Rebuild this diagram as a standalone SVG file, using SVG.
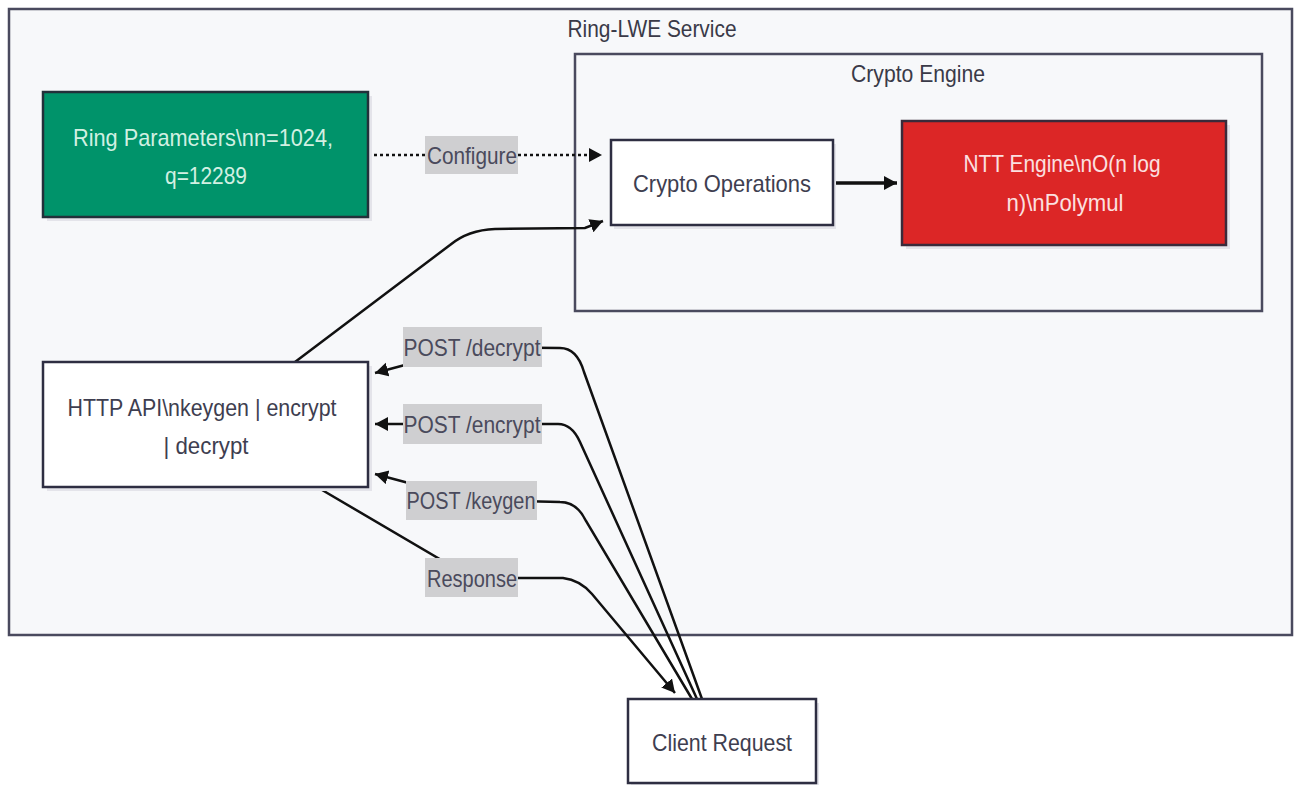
<svg xmlns="http://www.w3.org/2000/svg" width="1297" height="785" viewBox="0 0 1297 785">
<style>
  text { font-family: "Liberation Sans", Arial, sans-serif; font-size: 24px; dominant-baseline: central; text-anchor: middle; }
  .title { fill: #3a3a48; }
  .dark { fill: #3e3e50; }
  .lbl { fill: #4a4a5c; }
  .cluster { fill: #f7f8fa; stroke: #4a4a5e; stroke-width: 2.5; }
  .node { fill: #ffffff; stroke: #2e2e42; stroke-width: 2.5; }
  .shadow { fill: #e4e4ea; }
  .edge { fill: none; stroke: #111; stroke-width: 2.5; }
  .thick { stroke-width: 3.4; }
  .dotted { stroke-dasharray: 3 3; }
  .lblbg { fill: #cfcfd1; }
</style>
<defs>
  <marker id="arr" markerUnits="userSpaceOnUse" markerWidth="16" markerHeight="16" refX="13" refY="7" orient="auto">
    <path d="M0,0 L13,7 L0,14 z" fill="#111"/>
  </marker>
</defs>
<rect width="1297" height="785" fill="#ffffff"/>

<g id="ring-lwe-service">
  <rect class="cluster" x="9" y="9" width="1283" height="626"/>
  <text class="title" x="652" y="28" textLength="169" lengthAdjust="spacingAndGlyphs">Ring-LWE Service</text>
</g>
<g id="crypto-engine">
  <rect class="cluster" x="575" y="54" width="687" height="257"/>
  <text class="title" x="918" y="73" textLength="134" lengthAdjust="spacingAndGlyphs">Crypto Engine</text>
</g>

<g id="connectors">
  <path class="edge dotted" d="M368,155 L602,155" marker-end="url(#arr)"/>
  <path class="edge" d="M295,362 L450,245 Q468,230 495,229 L585,228 L603,221" marker-end="url(#arr)"/>
  <path class="edge thick" d="M833,183 L897,183" marker-end="url(#arr)"/>
  <path class="edge" d="M702,699 L584,372 Q577,348 560,348 L472,347 L375,373" marker-end="url(#arr)"/>
  <path class="edge" d="M697,699 L580,442 Q572,424 558,424 L375,424" marker-end="url(#arr)"/>
  <path class="edge" d="M692,699 L586,521 Q577,502 560,502 L472,500 L375,474" marker-end="url(#arr)"/>
  <path class="edge" d="M317,487 L472,578 L563,578 Q580,580 592,594 L675,693" marker-end="url(#arr)"/>
  <rect class="lblbg" x="425" y="136" width="93" height="38"/>
  <text class="lbl" x="472" y="155" textLength="90" lengthAdjust="spacingAndGlyphs">Configure</text>
  <rect class="lblbg" x="403" y="327" width="139" height="40"/>
  <text class="lbl" x="472" y="347" textLength="137" lengthAdjust="spacingAndGlyphs">POST /decrypt</text>
  <rect class="lblbg" x="403" y="404" width="139" height="40"/>
  <text class="lbl" x="472" y="424" textLength="137" lengthAdjust="spacingAndGlyphs">POST /encrypt</text>
  <rect class="lblbg" x="406" y="481" width="131" height="39"/>
  <text class="lbl" x="471" y="500" textLength="129" lengthAdjust="spacingAndGlyphs">POST /keygen</text>
  <rect class="lblbg" x="425" y="558" width="93" height="39"/>
  <text class="lbl" x="472" y="578" textLength="90" lengthAdjust="spacingAndGlyphs">Response</text>
</g>

<g id="ring-parameters">
  <rect class="shadow" x="47" y="96" width="325" height="125"/>
  <rect x="43" y="92" width="325" height="125" fill="#00936a" stroke="#22303a" stroke-width="2.5"/>
  <text x="203" y="137" fill="#d2f0e2" textLength="260" lengthAdjust="spacingAndGlyphs">Ring Parameters\nn=1024,</text>
  <text x="206" y="175" fill="#d2f0e2" textLength="82" lengthAdjust="spacingAndGlyphs">q=12289</text>
</g>

<g id="crypto-operations">
  <rect class="shadow" x="614" y="144" width="222" height="85"/>
  <rect class="node" x="611" y="140" width="222" height="85"/>
  <text class="dark" x="722" y="183" textLength="178" lengthAdjust="spacingAndGlyphs">Crypto Operations</text>
</g>

<g id="ntt-engine">
  <rect class="shadow" x="906" y="125" width="324" height="124"/>
  <rect x="902" y="121" width="324" height="124" fill="#dc2626" stroke="#3a2a3a" stroke-width="2.5"/>
  <text x="1062" y="163" fill="#fbe0e0" textLength="197" lengthAdjust="spacingAndGlyphs">NTT Engine\nO(n log</text>
  <text x="1065" y="202" fill="#fbe0e0" textLength="117" lengthAdjust="spacingAndGlyphs">n)\nPolymul</text>
</g>

<g id="http-api">
  <rect class="shadow" x="47" y="366" width="325" height="125"/>
  <rect class="node" x="43" y="362" width="325" height="125"/>
  <text class="dark" x="202" y="407" textLength="269" lengthAdjust="spacingAndGlyphs">HTTP API\nkeygen | encrypt</text>
  <text class="dark" x="206" y="445" textLength="85" lengthAdjust="spacingAndGlyphs">| decrypt</text>
</g>

<g id="client-request">
  <rect class="shadow" x="631" y="703" width="188" height="84"/>
  <rect class="node" x="628" y="699" width="188" height="84"/>
  <text class="dark" x="722" y="742" textLength="140" lengthAdjust="spacingAndGlyphs">Client Request</text>
</g>
</svg>
